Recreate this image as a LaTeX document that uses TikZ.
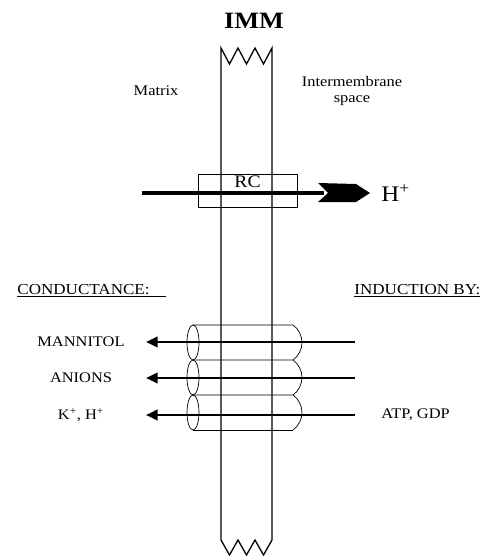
\documentclass[tikz,border=0pt]{standalone}
\usepackage{fontspec}
\setmainfont{Liberation Serif}[FakeStretch=1.12]
\usetikzlibrary{arrows.meta, positioning, calc}

\begin{document}
\begin{tikzpicture}[x=0.03cm, y=-0.03cm,
    wall/.style={line width=1.1pt},
    txt/.style={font=\fontsize{12.5}{14}\selectfont, inner sep=1pt},
    hdr/.style={font=\fontsize{13}{15}\selectfont, inner sep=1pt},
    flux/.style={line width=2.2pt, -{Triangle[length=10pt, width=9pt]}}]
  \useasboundingbox (0,0) rectangle (488,556);

  % inner membrane, broken at both ends
  \draw[wall] (221,540) -- (221,48)
    \foreach \k in {0,1,2} { -- ({229.5+17*\k},64) -- ({238+17*\k},48) }
    -- (272,540)
    \foreach \k in {0,1,2} { -- ({263.5-17*\k},555) -- ({255-17*\k},540) };

  \node[font=\fontsize{20}{22}\selectfont\bfseries] (imm) at (254,21) {IMM};
  \node[txt] (matrix) at (156,91) {Matrix};
  \node[txt, align=center] (ims) at (352,91) {Intermembrane\\space};

  % respiratory chain
  \node[draw, line width=0.7pt, minimum width=84.5pt, minimum height=28.2pt,
        inner sep=0pt] (rc) at (247.5,190.5) {};
  \node[font=\fontsize{15}{17}\selectfont, inner sep=1pt,
        below=1pt of rc.north] (rclbl) {RC};
  \coordinate (hs) at (142,193);
  \coordinate (ht) at (370,193);
  \node[font=\fontsize{19}{21}\selectfont, anchor=west, inner sep=1pt]
        (hplus) at (380,193) {H\textsuperscript{+}};
  \draw[line width=3.4pt] (hs) -- ($(ht)+(-46,0)$);
  \fill ($(ht)+(-52,-10)$) -- ($(ht)+(-14,-9)$) -- (ht) -- ($(ht)+(-14,9)$)
        -- ($(ht)+(-52,9)$) -- ($(ht)+(-42,0)$) -- cycle;

  % headings
  \node[hdr, anchor=west] (cond) at (16,291) {\underline{CONDUCTANCE:\hspace{14pt}}};
  \node[hdr, anchor=west] (induc) at (353,291) {\underline{INDUCTION BY:}};

  % uncoupling protein channels
  \foreach \t in {325,360,395} {
    \pgfmathsetmacro{\m}{\t+17.5}
    \pgfmathsetmacro{\b}{\t+35}
    \draw[line width=0.6pt] (193,\m) ellipse [x radius=6, y radius=17.5];
    \draw[line width=0.6pt] (193,\t) -- (293,\t)
          .. controls (299,{\t+4}) and (302,{\m-6}) .. (302,\m)
          .. controls (302,{\m+6}) and (299,{\b-4}) .. (293,\b);
  }
  \draw[line width=0.6pt] (193,430) -- (293,430);

  \foreach \y/\name/\lbl in {342/mann/MANNITOL, 378/anio/ANIONS,
                             415/kh/{K\textsuperscript{+}, H\textsuperscript{+}}} {
    \node[txt] (\name) at (81,\y) {\lbl};
    \coordinate (\name src) at (355,\y);
    \coordinate (\name end) at (146,\y);
    \draw[flux] (\name src) -- (\name end);
  }
  \node[txt, anchor=west] (atp) at (380,415) {ATP, GDP};
\end{tikzpicture}
\end{document}
